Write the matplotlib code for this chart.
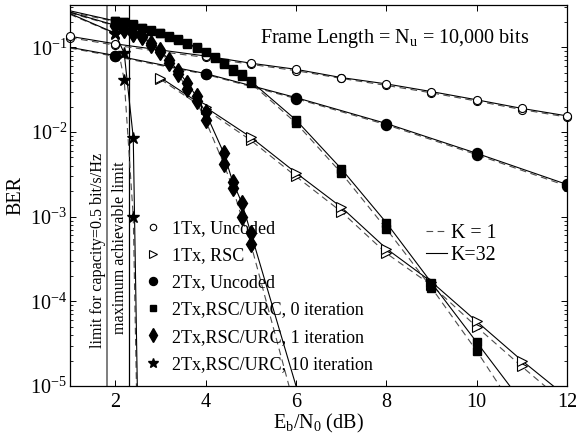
import matplotlib
matplotlib.use("Agg")
import matplotlib.pyplot as plt
from matplotlib.lines import Line2D

plt.rcParams['font.family'] = ['Liberation Serif', 'DejaVu Serif']
plt.rcParams['mathtext.fontset'] = 'custom'
plt.rcParams['mathtext.rm'] = 'Liberation Serif'
plt.rcParams['mathtext.it'] = 'Liberation Serif:italic'
plt.rcParams['mathtext.bf'] = 'Liberation Serif:bold'

# ---------------- data ----------------
# 1Tx, Uncoded
x_1tx_unc = [1, 2, 3, 4, 5, 6, 7, 8, 9, 10, 11, 12]
y_1tx_unc_k32 = [0.135, 0.11, 0.093, 0.079, 0.065, 0.055, 0.044, 0.037, 0.030, 0.024, 0.019, 0.0155]
y_1tx_unc_k1 = [0.130, 0.106, 0.089, 0.076, 0.063, 0.053, 0.043, 0.0355, 0.029, 0.0232, 0.0184, 0.015]

# 1Tx, RSC
x_1tx_rsc = [3, 4, 5, 6, 7, 8, 9, 10, 11, 12]
y_1tx_rsc_k32 = [0.044, 0.0196, 0.0087, 0.0033, 0.0013, 4.2e-4, 1.7e-4, 5.8e-5, 2.0e-5, 7.4e-6]
y_1tx_rsc_k1 = [0.042, 0.0185, 0.0080, 0.0030, 0.00115, 3.7e-4, 1.55e-4, 5.0e-5, 1.7e-5, 6.0e-6]

# 2Tx, Uncoded
x_2tx_unc = [1, 2, 4, 6, 8, 10, 12]
y_2tx_unc_k32 = [0.10, 0.080, 0.049, 0.0255, 0.0126, 0.0056, 0.0024]
y_2tx_unc_k1 = [0.098, 0.078, 0.048, 0.0248, 0.0122, 0.0054, 0.0023]

# 2Tx, RSC/URC, 0 iteration
x_it0 = [1, 2.0, 2.2, 2.4, 2.6, 2.8, 3.0, 3.2, 3.4, 3.6, 3.8, 4.0, 4.2, 4.4, 4.6, 4.8, 5.0, 6, 7, 8, 9, 10, 11]
y_it0_k32 = [0.27, 0.205, 0.20, 0.187, 0.171, 0.159, 0.149, 0.136, 0.124, 0.112, 0.10, 0.087, 0.076,
             0.066, 0.055, 0.048, 0.040, 0.0139, 0.0037, 8.5e-4, 1.66e-4, 3.3e-5, 6.5e-6]
y_it0_k1 = [0.26, 0.202, 0.197, 0.184, 0.168, 0.156, 0.146, 0.133, 0.121, 0.109, 0.097, 0.085, 0.074,
            0.064, 0.053, 0.046, 0.038, 0.0128, 0.0033, 7.2e-4, 1.45e-4, 2.6e-5, 4.0e-6]

# 2Tx, RSC/URC, 1 iteration
x_it1 = [1, 2.0, 2.2, 2.4, 2.6, 2.8, 3.0, 3.2, 3.4, 3.6, 3.8, 4.0, 4.4, 4.6, 4.8, 5.0, 6.2]
y_it1_k32 = [0.26, 0.182, 0.166, 0.148, 0.135, 0.112, 0.092, 0.070, 0.052, 0.0375, 0.0263, 0.0170,
             0.0057, 0.0026, 0.00147, 6.5e-4, 4.4e-6]
y_it1_k1 = [0.255, 0.179, 0.162, 0.144, 0.131, 0.108, 0.088, 0.066, 0.048, 0.0318, 0.0230, 0.0137,
            0.00424, 0.0022, 9.8e-4, 4.8e-4, 2.0e-6]

# 2Tx, RSC/URC, 10 iteration
x_it10 = [1, 2.0, 2.2, 2.4, 2.6]
y_it10_k32 = [0.25, 0.147, 0.085, 0.0086, 2.5e-9]
y_it10_k1 = [0.245, 0.145, 0.041, 0.0010, 2.0e-9]

# limits
x_capacity_limit = 1.815
x_achievable_limit = 2.30

x_ticks = [2, 4, 6, 8, 10, 12]

# ---------------- figure ----------------
fig = plt.figure(figsize=(5.76, 4.38), dpi=100)
ax = fig.add_axes([70/576, 52/438, 497/576, 381/438])
ax.set_yscale('log')
ax.set_xlim(1, 12)
ax.set_ylim(1e-5, 10**-0.5)

lw = 0.8
dash = (0, (6, 4))
kcol = 'black'
dcol = '0.3'

series = [
    (x_1tx_unc, y_1tx_unc_k32, y_1tx_unc_k1, dict(marker='o', mfc='white', mec='black', ms=5.8, mew=0.8), None, False),
    (x_1tx_rsc, y_1tx_rsc_k32, y_1tx_rsc_k1, dict(marker='>', mfc='white', mec='black', ms=6.8, mew=0.8), None, True),
    (x_2tx_unc, y_2tx_unc_k32, y_2tx_unc_k1, dict(marker='o', mfc='black', mec='black', ms=7.2), slice(1, None), True),
    (x_it0, y_it0_k32, y_it0_k1, dict(marker='s', mfc='black', mec='black', ms=5.2), slice(1, None), True),
    (x_it1, y_it1_k32, y_it1_k1, dict(marker='d', mfc='black', mec='black', ms=8.5), slice(1, None), True),
    (x_it10, y_it10_k32, y_it10_k1, dict(marker='*', mfc='black', mec='black', ms=9), slice(1, None), True),
]

for xs, yk32, yk1, mk, mev, clip in series:
    ax.plot(xs, yk1, linestyle=dash, color=dcol, lw=lw, markevery=mev, clip_on=clip, zorder=2, **mk)
    ax.plot(xs, yk32, linestyle='-', color=kcol, lw=lw, markevery=mev, clip_on=clip, zorder=3, **mk)

ax.axvline(x_capacity_limit, color='0.45', lw=1.3, zorder=1)
ax.axvline(x_achievable_limit, color='black', lw=0.9, zorder=1)

ax.text(x_capacity_limit - 0.2, 10**-3.40, 'limit for capacity=0.5 bit/s/Hz', rotation=90,
        ha='center', va='center', fontsize=11.6)
ax.text(x_achievable_limit - 0.19, 10**-3.37, 'maximum achievable limit', rotation=90,
        ha='center', va='center', fontsize=11.6)

ax.text(0.382, 0.900, r'Frame Length = $\mathrm{N_u}$ = 10,000 bits', transform=ax.transAxes,
        ha='left', va='baseline', fontsize=14.5)

ax.set_xticks(x_ticks)
ax.set_xticklabels([str(t) for t in x_ticks])
ax.tick_params(which='both', direction='in', top=True, right=True, labelsize=14.5)
ax.tick_params(axis='x', pad=5)
ax.tick_params(axis='y', pad=2)
ax.tick_params(which='major', length=4, width=0.7)
ax.tick_params(which='minor', length=2, width=0.6)
for s in ax.spines.values():
    s.set_linewidth(0.9)

ax.set_xlabel(r'$\mathrm{E_b/N_0}$ (dB)', fontsize=14.5, labelpad=0)
ax.set_ylabel('BER', fontsize=14.5, labelpad=3)

labels1 = ['1Tx, Uncoded', '1Tx, RSC', '2Tx, Uncoded', '2Tx,RSC/URC, 0 iteration',
           '2Tx,RSC/URC, 1 iteration', '2Tx,RSC/URC, 10 iteration']
handles1 = [Line2D([], [], linestyle='None', **s[3]) for s in series]
leg1 = ax.legend(handles1, labels1, loc='upper left', bbox_to_anchor=(0.148, 0.436),
                 frameon=False, fontsize=13, handlelength=1.0, handletextpad=0.55,
                 labelspacing=0.565, borderpad=0, borderaxespad=0, markerscale=0.8)
ax.add_artist(leg1)

handles2 = [Line2D([], [], linestyle=dash, color=dcol, lw=lw),
            Line2D([], [], linestyle='-', color=kcol, lw=lw)]
ax.legend(handles2, ['K = 1', 'K=32'], loc='upper left', bbox_to_anchor=(0.716, 0.424),
          frameon=False, fontsize=14.4, handlelength=1.05, handletextpad=0.2,
          labelspacing=0.12, borderpad=0, borderaxespad=0)

fig.savefig('out.png', dpi=100)
